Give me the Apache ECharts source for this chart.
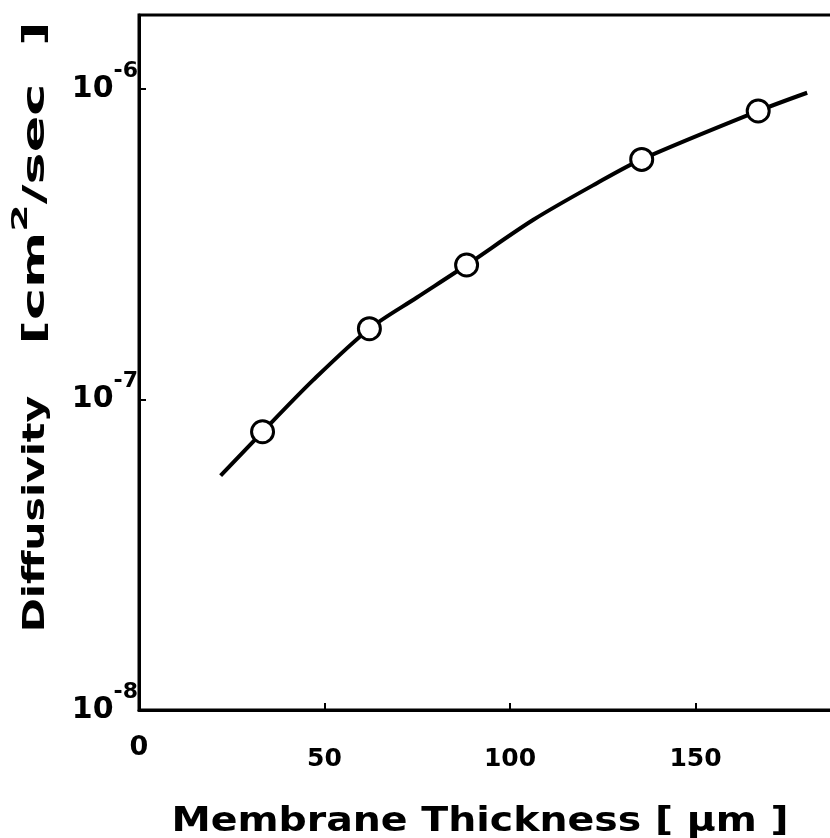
<!DOCTYPE html>
<html>
<head>
<meta charset="utf-8">
<script src="https://cdn.jsdelivr.net/npm/echarts@6/dist/echarts.min.js"></script>
<style>
  html, body { margin: 0; padding: 0; background: #fff; }
  #chart { width: 830px; height: 838px; }
</style>
</head>
<body>
<div id="chart"></div>
<script>
// measured points (open circles)
const thickness = [33.3, 62.1, 88.3, 135.5, 166.9]
const diffusivity = [7.87e-8, 1.69e-7, 2.71e-7, 5.93e-7, 8.49e-7]
// fitted curve
const curveX = [22.0, 33.3, 47.0, 62.1, 74.9, 88.3, 106.3, 123.4, 135.5, 166.9, 180.1]
const curveY = [5.68e-8, 7.87e-8, 1.156e-7, 1.69e-7, 2.13e-7, 2.71e-7, 3.79e-7, 4.97e-7, 5.93e-7, 8.49e-7, 9.72e-7]

const xTitle = 'Membrane Thickness [ µm ]'
const yTitle = 'Diffusivity'
const yUnit = '{a|[cm}{s|2}{a|/sec  ]}'

const font = '"DejaVu Sans", Arial, sans-serif'

const chart = echarts.init(document.getElementById('chart'), null, { renderer: 'canvas' })

const option = {
  backgroundColor: '#fff',
  animation: false,
  grid: {
    left: 139,
    right: -51,
    top: 15,
    bottom: 128,
    outerBoundsMode: 'none',
    containLabel: false,
    show: true,
    borderColor: '#000',
    borderWidth: 3
  },
  xAxis: {
    type: 'value',
    min: 0,
    max: 200,
    interval: 50,
    splitLine: { show: false },
    axisLine: { lineStyle: { color: '#000', width: 3 } },
    axisTick: { inside: true, length: 7, lineStyle: { color: '#000', width: 2 } },
    axisLabel: {
      margin: 24,
      formatter: v => (v === 0 ? '{z|0}' : v > 150 ? '' : '{n|' + v + '}'),
      rich: {
        z: { fontFamily: font, fontWeight: 'bold', fontSize: 27, lineHeight: 27, color: '#000' },
        n: { fontFamily: font, fontWeight: 'bold', fontSize: 25, lineHeight: 25, color: '#000', padding: [25, 0, 0, 0] }
      }
    }
  },
  yAxis: {
    type: 'log',
    logBase: 10,
    min: 1e-8,
    max: 1.73e-6,
    interval: 1,
    splitLine: { show: false },
    axisLine: { lineStyle: { color: '#000', width: 3 } },
    axisTick: { inside: true, length: 7, lineStyle: { color: '#000', width: 2 } },
    axisLabel: {
      margin: 1,
      formatter: v => {
        const e = Math.log10(v)
        if (Math.abs(e - Math.round(e)) > 1e-6) return ''
        return '{b|10}{s|' + Math.round(e) + '}'
      },
      rich: {
        b: { fontFamily: font, fontWeight: 'bold', fontSize: 30, lineHeight: 30, color: '#000' },
        s: { fontFamily: font, fontWeight: 'bold', fontSize: 22, lineHeight: 22, color: '#000', padding: [0, 0, 36, 0] }
      }
    }
  },
  graphic: [
    {
      type: 'text',
      x: 480,
      y: 822,
      scaleX: 1.16,
      style: {
        text: xTitle,
        font: 'bold 34px ' + font,
        fill: '#000',
        align: 'center',
        verticalAlign: 'middle'
      }
    },
    {
      type: 'text',
      x: 36,
      y: 514,
      rotation: Math.PI / 2,
      scaleX: 1.37,
      style: {
        text: yTitle,
        font: 'bold 30px ' + font,
        fill: '#000',
        align: 'center',
        verticalAlign: 'middle'
      }
    },
    {
      type: 'text',
      x: 36,
      y: 183,
      rotation: Math.PI / 2,
      scaleX: 1.8,
      style: {
        text: yUnit,
        font: 'bold 30px ' + font,
        fill: '#000',
        align: 'center',
        verticalAlign: 'middle',
        rich: {
          a: { fontFamily: font, fontWeight: 'bold', fontSize: 30, lineHeight: 30, fill: '#000' },
          s: { fontFamily: font, fontWeight: 'bold', fontSize: 22, lineHeight: 22, fill: '#000', padding: [0, 0, 30, 0] }
        }
      }
    }
  ],
  series: [
    {
      name: 'fit',
      type: 'line',
      smooth: 0.3,
      showSymbol: false,
      lineStyle: { color: '#000', width: 4 },
      data: curveX.map((x, i) => [x, curveY[i]]),
      z: 2
    },
    {
      name: 'measured',
      type: 'scatter',
      symbol: 'circle',
      symbolSize: 22,
      itemStyle: { color: '#fff', borderColor: '#000', borderWidth: 3, opacity: 1 },
      data: thickness.map((x, i) => [x, diffusivity[i]]),
      z: 3
    }
  ]
}

chart.setOption(option)
</script>
</body>
</html>
